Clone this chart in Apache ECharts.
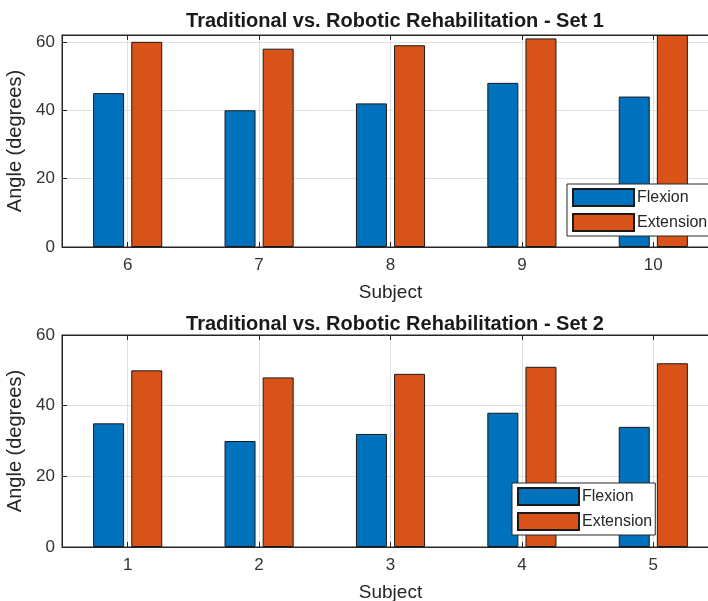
<!DOCTYPE html>
<html>
<head>
<meta charset="utf-8">
<script src="https://cdn.jsdelivr.net/npm/echarts@6/dist/echarts.min.js"></script>
<style>
html,body{margin:0;padding:0;background:#fff;}
#chart{width:708px;height:601px;}
</style>
</head>
<body>
<div id="chart"></div>
<script>
// ---- data ----
const categories1 = ['6', '7', '8', '9', '10'];
const flexion1 = [45, 40, 42, 48, 44];
const extension1 = [60, 58, 59, 61, 62];

const categories2 = ['1', '2', '3', '4', '5'];
const flexion2 = [35, 30, 32, 38, 34];
const extension2 = [50, 48, 49, 51, 52];

const yTicks = [0, 20, 40, 60];
const title1 = 'Traditional vs. Robotic Rehabilitation - Set 1';
const title2 = 'Traditional vs. Robotic Rehabilitation - Set 2';
const xName = 'Subject';
const yName = 'Angle (degrees)';

// ---- styles ----
const BLUE = '#0072BD', ORANGE = '#D95319';
const AX = '#262626', GRIDC = '#e0e0e0';
const FONT = 'Liberation Sans, Arial, Helvetica, sans-serif';

function bottomX(gridIndex, cats) {
  return {
    type: 'category', gridIndex, data: cats, position: 'bottom',
    boundaryGap: true,
    name: xName, nameLocation: 'middle', nameGap: 36,
    nameTextStyle: {fontSize: 19, color: AX, fontFamily: FONT},
    axisLine: {show: true, lineStyle: {color: AX, width: 1}},
    axisTick: {show: true, inside: true, alignWithLabel: true, length: 5, lineStyle: {color: AX}},
    axisLabel: {fontSize: 17, color: '#333', fontFamily: FONT, margin: 10},
    splitLine: {show: true, alignWithLabel: true, lineStyle: {color: GRIDC, width: 1}}
  };
}
function topX(gridIndex, cats) {
  return {
    type: 'category', gridIndex, data: cats, position: 'top',
    boundaryGap: true,
    axisLine: {show: true, lineStyle: {color: AX, width: 1}},
    axisTick: {show: true, inside: true, alignWithLabel: true, length: 5, lineStyle: {color: AX}},
    axisLabel: {show: false},
    splitLine: {show: false}
  };
}
function leftY(gridIndex, max) {
  return {
    type: 'value', gridIndex, min: 0, max: max, interval: 20,
    name: yName, nameLocation: 'middle', nameGap: 26, nameRotate: 90,
    nameTextStyle: {fontSize: 20, color: AX, fontFamily: FONT},
    axisLine: {show: true, lineStyle: {color: AX, width: 1}},
    axisTick: {show: true, inside: true, length: 5, lineStyle: {color: AX}},
    axisLabel: {
      fontSize: 17, color: '#333', fontFamily: FONT, margin: 7,
      formatter: v => (yTicks.indexOf(v) >= 0 ? String(v) : '')
    },
    splitLine: {show: true, lineStyle: {color: GRIDC, width: 1}}
  };
}
function barSeries(name, data, color, xi, yi) {
  return {
    name, type: 'bar', data, xAxisIndex: xi, yAxisIndex: yi,
    barWidth: 31, barGap: '23%',
    itemStyle: {color, borderColor: '#1a1a1a', borderWidth: 1},
    emphasis: {disabled: true}
  };
}
function legendAt(left, top) {
  return {
    left, top, orient: 'vertical',
    data: ['Flexion', 'Extension'],
    itemWidth: 61, itemHeight: 17, itemGap: 6,
    padding: [4, 3, 4, 5],
    backgroundColor: '#fff', borderColor: AX, borderWidth: 1, borderRadius: 0,
    icon: 'rect',
    textStyle: {fontSize: 16, color: AX, fontFamily: FONT, padding: [0, 0, 0, -2]},
    selectedMode: false
  };
}

const option = {
  animation: false,
  backgroundColor: '#fff',
  title: [
    {text: title1, left: 390, top: 6, textAlign: 'center',
     textStyle: {fontSize: 20, fontWeight: 'bold', color: '#1a1a1a', fontFamily: FONT}},
    {text: title2, left: 390, top: 309, textAlign: 'center',
     textStyle: {fontSize: 20, fontWeight: 'bold', color: '#1a1a1a', fontFamily: FONT}}
  ],
  grid: [
    {left: 62, top: 35, width: 657, height: 212, outerBoundsMode: 'none', containLabel: false,
     show: true, borderColor: AX, borderWidth: 1, backgroundColor: '#fff'},
    {left: 62, top: 335, width: 657, height: 212, outerBoundsMode: 'none', containLabel: false,
     show: true, borderColor: AX, borderWidth: 1, backgroundColor: '#fff'}
  ],
  xAxis: [bottomX(0, categories1), topX(0, categories1), bottomX(1, categories2), topX(1, categories2)],
  yAxis: [leftY(0, 62), leftY(1, 60)],
  legend: [legendAt(567, 184), legendAt(512, 483)],
  series: [
    barSeries('Flexion', flexion1, BLUE, 0, 0),
    barSeries('Extension', extension1, ORANGE, 0, 0),
    barSeries('Flexion', flexion2, BLUE, 2, 1),
    barSeries('Extension', extension2, ORANGE, 2, 1)
  ]
};

const chart = echarts.init(document.getElementById('chart'), null, {renderer: 'canvas'});
chart.setOption(option);
</script>
</body>
</html>
